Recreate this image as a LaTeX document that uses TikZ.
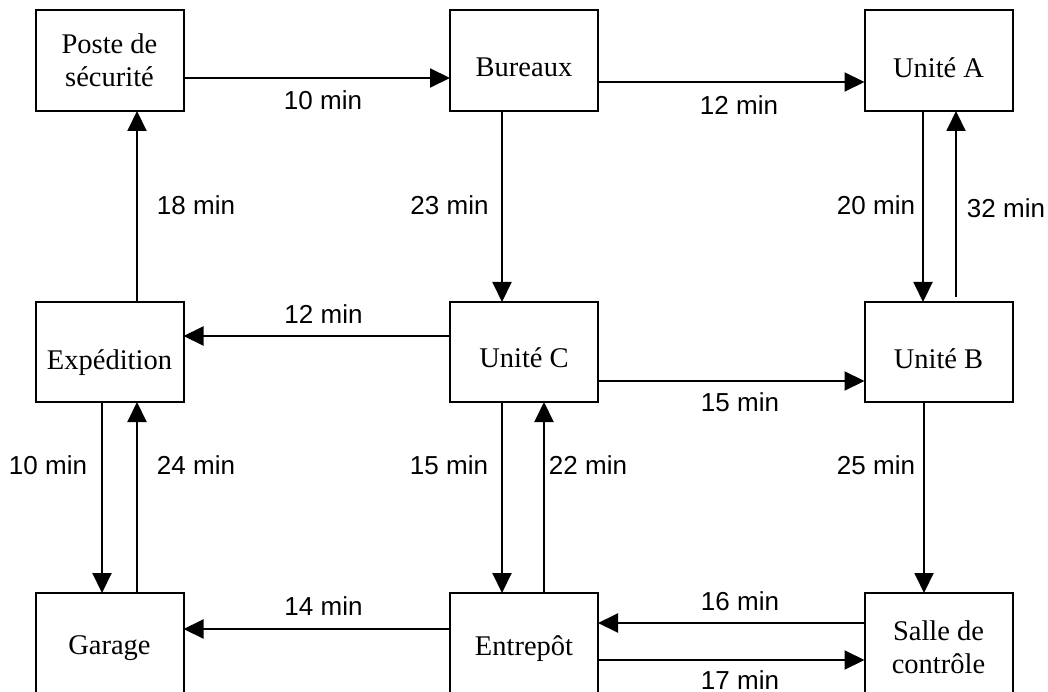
\documentclass[tikz,border=0pt]{standalone}
\usepackage{fontspec}
\setmainfont{Liberation Serif}
\newfontfamily\lblfont{Liberation Sans}
\usetikzlibrary{arrows.meta}

\begin{document}
\begin{tikzpicture}[x=1pt,y=-1pt,
  box/.style={draw, line width=2pt, minimum width=148pt, minimum height=101pt,
    inner sep=0pt, outer sep=0pt},
  boxtext/.style={font=\fontsize{28.5}{33}\selectfont, align=center, inner sep=0pt},
  lbl/.style={font=\lblfont\fontsize{26}{30}\selectfont, inner sep=0pt},
  arr/.style={line width=2pt, -{Triangle[length=20pt,width=19pt]}}]

% page
\fill[white] (0,0) rectangle (1048,692);
\useasboundingbox (0,0) rectangle (1048,692);

% boxes
\node[box] (poste) at (109.5,60.5) {};
\node[box] (bur)   at (524,60.5) {};
\node[box] (unia)  at (938.5,60.5) {};
\node[box, minimum height=100pt] (exp)  at (109.5,352) {};
\node[box, minimum height=100pt] (unic) at (524,352) {};
\node[box, minimum height=100pt] (unib) at (938.5,352) {};
\node[box] (gar)   at (109.5,643.5) {};
\node[box] (ent)   at (524,643.5) {};
\node[box] (salle) at (938.5,643.5) {};

% box texts
\node[boxtext] (tposte) at (109.5,60.3) {Poste de\\sécurité};
\node[boxtext, anchor=base] (tbur)  at (524,77) {Bureaux};
\node[boxtext, anchor=base] (tunia) at (938.5,78) {Unité A};
\node[boxtext, anchor=base] (texp)  at (109.5,369) {Expédition};
\node[boxtext, anchor=base] (tunic) at (524,367) {Unité C};
\node[boxtext, anchor=base] (tunib) at (938.5,368) {Unité B};
\node[boxtext, anchor=base] (tgar)  at (109.5,654) {Garage};
\node[boxtext, anchor=base] (tent)  at (524,655) {Entrepôt};
\node[boxtext] (tsalle) at (938.5,646.8) {Salle de\\contrôle};

% connectors
\draw[arr] (poste.east |- 0,78) -- (bur.west |- 0,78);
\draw[arr] (bur.east |- 0,82) -- (unia.west |- 0,82);
\draw[arr] (bur.south -| 502,0) -- (unic.north -| 502,0);
\draw[arr] (unia.south -| 923,0) -- (unib.north -| 923,0);
\draw[arr] ([yshift=5pt]unib.north -| 956,0) -- (unia.south -| 956,0);
\draw[arr] (exp.north -| 137,0) -- (poste.south -| 137,0);
\draw[arr] (unic.west |- 0,336) -- (exp.east |- 0,336);
\draw[arr] (unic.east |- 0,381) -- (unib.west |- 0,381);
\draw[arr] (exp.south -| 102,0) -- (gar.north -| 102,0);
\draw[arr] (gar.north -| 137,0) -- (exp.south -| 137,0);
\draw[arr] (unic.south -| 502,0) -- (ent.north -| 502,0);
\draw[arr] (ent.north -| 544,0) -- (unic.south -| 544,0);
\draw[arr] (unib.south -| 924,0) -- (salle.north -| 924,0);
\draw[arr] (ent.west |- 0,629) -- (gar.east |- 0,629);
\draw[arr] (salle.west |- 0,623) -- (ent.east |- 0,623);
\draw[arr] (ent.east |- 0,660) -- (salle.west |- 0,660);

% travel times
\node[lbl] (l1)  at (323,100.5) {10 min};
\node[lbl] (l2)  at (739,105) {12 min};
\node[lbl] (l3)  at (449.5,205) {23 min};
\node[lbl] (l4)  at (876,205) {20 min};
\node[lbl] (l5)  at (1006,208) {32 min};
\node[lbl] (l6)  at (196,205) {18 min};
\node[lbl] (l7)  at (323.5,314) {12 min};
\node[lbl] (l8)  at (740,402) {15 min};
\node[lbl] (l9)  at (48,465) {10 min};
\node[lbl] (l10) at (196,465) {24 min};
\node[lbl] (l11) at (449,465) {15 min};
\node[lbl] (l12) at (588,465) {22 min};
\node[lbl] (l13) at (876,465) {25 min};
\node[lbl] (l14) at (323.5,606) {14 min};
\node[lbl] (l15) at (740,601) {16 min};
\node[lbl] (l16) at (740,680) {17 min};
\end{tikzpicture}
\end{document}
